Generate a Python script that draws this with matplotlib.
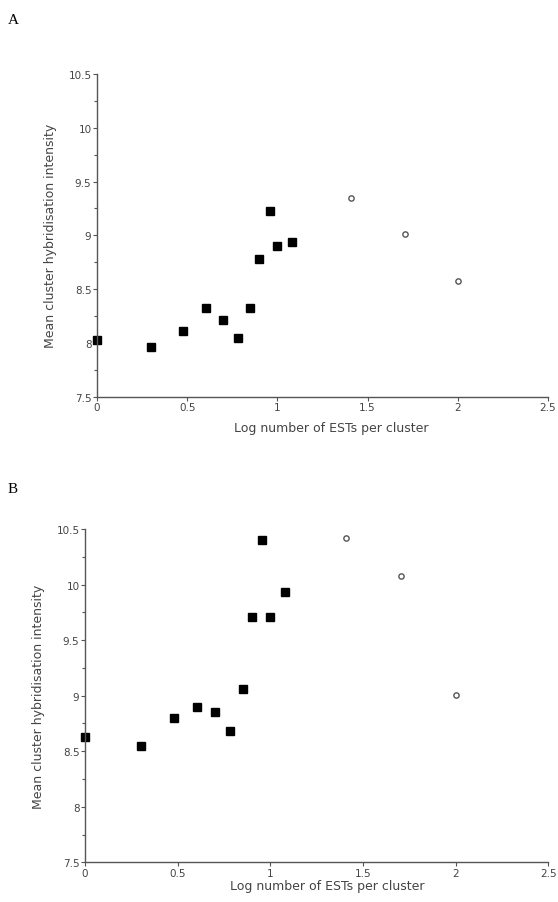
import matplotlib
matplotlib.use("Agg")
import matplotlib.pyplot as plt
from matplotlib.ticker import MultipleLocator

# Panel A data
a_sq_x = [0.0, 0.30, 0.478, 0.602, 0.70, 0.78, 0.85, 0.90, 0.96, 1.00, 1.08]
a_sq_y = [8.03, 7.96, 8.11, 8.32, 8.21, 8.05, 8.32, 8.78, 9.23, 8.90, 8.94]
a_ci_x = [1.41, 1.705, 2.0]
a_ci_y = [9.35, 9.01, 8.58]

# Panel B data
b_sq_x = [0.0, 0.30, 0.478, 0.602, 0.70, 0.78, 0.85, 0.90, 0.955, 1.00, 1.08]
b_sq_y = [8.63, 8.55, 8.80, 8.90, 8.85, 8.68, 9.06, 9.71, 10.40, 9.71, 9.93]
b_ci_x = [1.41, 1.705, 2.0]
b_ci_y = [10.42, 10.08, 9.01]

xticks = [0, 0.5, 1, 1.5, 2, 2.5]
xticklabels = ["0", "0.5", "1", "1.5", "2", "2.5"]
yticks = [7.5, 8, 8.5, 9, 9.5, 10, 10.5]
yticklabels = ["7.5", "8", "8.5", "9", "9.5", "10", "10.5"]

xlabel = "Log number of ESTs per cluster"
ylabel = "Mean cluster hybridisation intensity"

W, H = 558, 903
fig = plt.figure(figsize=(W / 100, H / 100), dpi=100)

axc = "#555555"
txtc = "#444444"


def panel(rect, sqx, sqy, cix, ciy, ms):
    ax = fig.add_axes(rect)
    ax.plot(sqx, sqy, linestyle="none", marker="s", markersize=ms,
            color="black", clip_on=False)
    ax.plot(cix, ciy, linestyle="none", marker="o", markersize=3.8,
            markerfacecolor="white", markeredgecolor="#555555",
            markeredgewidth=1.0, clip_on=False)
    ax.set_xlim(0, 2.5)
    ax.set_ylim(7.5, 10.5)
    ax.set_xticks(xticks)
    ax.set_xticklabels(xticklabels)
    ax.set_yticks(yticks)
    ax.set_yticklabels(yticklabels)
    ax.yaxis.set_minor_locator(MultipleLocator(0.25))
    for s in ["top", "right"]:
        ax.spines[s].set_visible(False)
    for s in ["left", "bottom"]:
        ax.spines[s].set_color(axc)
        ax.spines[s].set_linewidth(1.0)
    ax.tick_params(axis="both", which="major", colors=axc, labelcolor=txtc,
                   labelsize=7.5, length=3, width=0.8, pad=1)
    ax.tick_params(axis="y", which="minor", colors=axc, length=2, width=0.8,
                   direction="out")
    ax.set_ylabel(ylabel, fontsize=9, color=txtc, labelpad=8)
    return ax


axA = panel([97 / W, 1 - 397.7 / H, 451 / W, 322.7 / H],
            a_sq_x, a_sq_y, a_ci_x, a_ci_y, 5.6)
axB = panel([85 / W, 1 - 863.3 / H, 463.3 / W, 333.3 / H],
            b_sq_x, b_sq_y, b_ci_x, b_ci_y, 5.3)

# x-axis titles placed in figure coordinates
fig.text(331 / W, 1 - 429 / H, xlabel, fontsize=9, color=txtc,
         ha="center", va="center")
fig.text(327 / W, 1 - 887 / H, xlabel, fontsize=9, color=txtc,
         ha="center", va="center")

fig.text(8 / W, 1 - 20 / H, "A", fontsize=11, family="Liberation Serif",
         va="center", ha="left")
fig.text(8 / W, 1 - 490 / H, "B", fontsize=11, family="Liberation Serif",
         va="center", ha="left")

fig.savefig("out.png", dpi=100, facecolor="white")
